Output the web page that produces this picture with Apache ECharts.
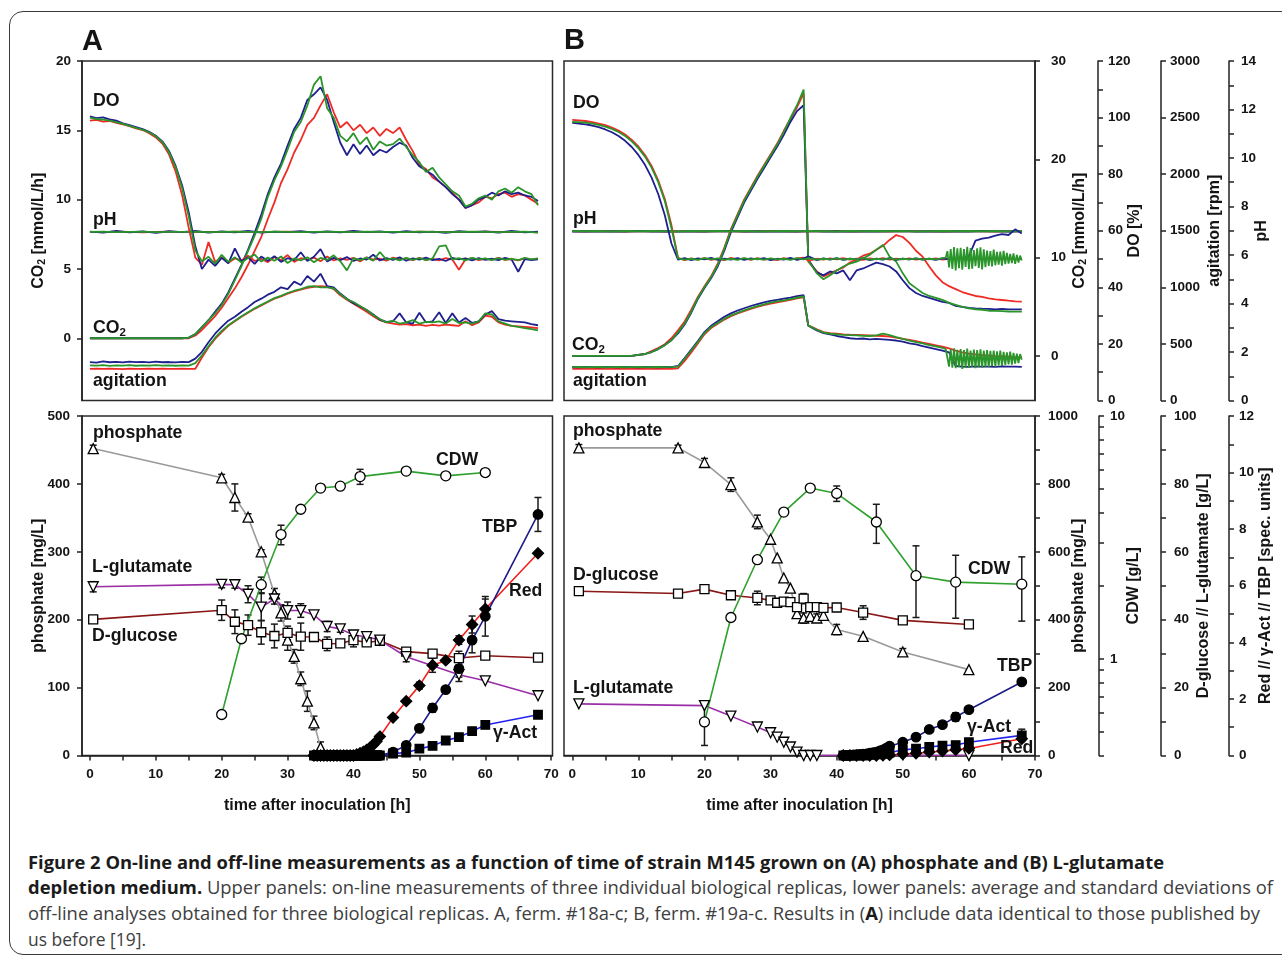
<!DOCTYPE html>
<html><head><meta charset="utf-8">
<script src="https://cdn.jsdelivr.net/npm/echarts@6/dist/echarts.min.js"></script>
<style>
html,body{margin:0;padding:0;background:#fff;}
#wrap{position:relative;width:1282px;height:958px;overflow:hidden;background:#fff;}
#frame{position:absolute;left:9px;top:11px;width:1310px;height:944px;border:1.5px solid #3a3a3a;border-radius:14px;box-sizing:border-box;}
#chart{position:absolute;left:0;top:0;width:1282px;height:835px;}
.cap{position:absolute;left:28px;white-space:nowrap;font-family:'Open Sans','Noto Sans',sans-serif;font-size:18px;line-height:22px;color:#3e3e3e;transform-origin:0 50%;}
.cap b{color:#1b1b1b;font-weight:700;}
</style></head>
<body><div id="wrap">
<div id="frame"></div>
<div id="chart"></div>
<div class="cap" data-w="1136" style="top:851px"><b>Figure 2 On-line and off-line measurements as a function of time of strain M145 grown on (A) phosphate and (B) L-glutamate</b></div>
<div class="cap" data-w="1245" style="top:876px"><b>depletion medium.</b> Upper panels: on-line measurements of three individual biological replicas, lower panels: average and standard deviations of</div>
<div class="cap" data-w="1232" style="top:902px">off-line analyses obtained for three biological replicas. A, ferm. #18a-c; B, ferm. #19a-c. Results in (<b>A</b>) include data identical to those published by</div>
<div class="cap" data-w="118" style="top:928px">us before [19].</div>
</div>
<script>
// ---------------- DATA ----------------
const HOURS_A = [0,1,2,3,4,5,6,7,8,9,10,11,12,13,14,15,16,17,18,19,20,21,22,23,24,25,26,27,28,29,30,31,32,33,34,35,36,37,38,39,40,41,42,43,44,45,46,47,48,49,50,51,52,53,54,55,56,57,58,59,60,61,62,63,64,65,66,67,68];
const HOURS_B = [0,1,2,3,4,5,6,7,8,9,10,11,12,13,14,15,16,17,18,19,20,21,22,23,24,25,26,27,28,29,30,31,32,33,34,35,35.7,37,38,39,40,41,42,43,44,45,46,47,48,49,50,51,52,53,54,55,56,57,58,59,60,61,62,63,64,65,66,67,68];
const HOURS_PH = [0,2,4,6,8,10,12,14,16,18,20,22,24,26,28,30,32,34,36,38,40,42,44,46,48,50,52,54,56,58,60,62,64,66,68];
const HOURS_OSC = [56.5,56.75,57,57.25,57.5,57.75,58,58.25,58.5,58.75,59,59.25,59.5,59.75,60,60.25,60.5,60.75,61,61.25,61.5,61.75,62,62.25,62.5,62.75,63,63.25,63.5,63.75,64,64.25,64.5,64.75,65,65.25,65.5,65.75,66,66.25,66.5,66.75,67,67.25,67.5,67.75,68];

// Panel A on-line (DO %, CO2 mmol/L/h, agitation rpm, pH)
const DO_A_R = [98.9,99.2,98.6,98.8,98.1,97.6,97.0,96.2,95.6,94.5,93.0,90.8,87.0,81.0,72.5,61.0,50.5,48.0,56.0,49.0,50.6,48.7,50.2,49.5,51.2,49.3,50.1,48.9,50.7,49.6,51.4,49.0,50.3,49.8,50.5,49.2,50.9,49.5,50.2,49.7,50.4,49.1,50.6,49.8,50.1,49.4,50.5,49.9,50.2,49.6,50.4,49.7,50.1,49.5,50.3,49.8,46.2,49.9,50.3,49.6,50.1,49.8,50.4,49.7,50.0,49.5,50.2,49.9,50.1];
const DO_A_B = [100.4,99.8,100.1,99.4,98.9,98.0,97.3,96.6,95.9,95.0,93.6,91.6,88.2,83.0,76.0,66.5,54.5,46.5,49.8,47.6,50.4,48.5,53.8,49.2,50.6,48.3,50.9,49.4,51.0,49.0,50.3,49.6,52.4,49.3,50.8,53.5,49.1,50.4,49.6,50.7,49.3,50.2,49.8,51.5,49.5,50.3,49.7,50.6,49.4,50.2,49.8,50.5,49.6,50.1,49.3,50.4,49.9,50.2,49.5,50.3,49.7,50.1,49.6,50.4,49.8,45.5,50.0,49.6,49.9];
const DO_A_G = [100.0,99.5,99.3,98.9,98.4,97.8,97.1,96.4,95.7,94.8,93.4,91.3,87.8,82.5,75.0,65.0,53.0,49.2,50.8,48.4,51.5,49.0,50.6,48.8,50.4,51.6,49.1,50.5,49.4,50.9,48.6,50.2,49.5,50.6,48.9,50.4,49.7,51.3,49.2,46.0,50.3,49.6,50.5,49.4,52.5,49.8,50.2,49.5,50.4,49.7,50.3,49.6,50.2,54.5,54.8,49.8,50.3,49.5,50.4,49.9,50.2,49.6,50.3,49.8,50.1,49.6,50.4,49.9,50.2];
const CO2_A_R = [0,0,0,0,0,0,0,0,0,0,0,0,0,0,0,0,0.2,0.6,1.1,1.6,2.2,2.9,3.6,4.4,5.3,6.3,7.3,8.6,9.8,11.2,12.2,13.4,14.3,15.4,15.9,16.8,17.6,16.3,15.2,15.6,15.0,15.4,14.8,15.2,14.6,15.1,14.8,15.2,14.3,13.5,12.5,12.2,11.6,11.3,10.9,10.5,10.0,9.4,9.6,9.8,10.2,10.1,10.4,10.5,10.2,10.4,10.3,10.0,9.7];
const CO2_A_B = [0,0,0,0,0,0,0,0,0,0,0,0,0,0,0,0.05,0.3,0.8,1.3,1.9,2.5,3.3,4.3,5.3,6.4,7.6,8.9,10.4,11.6,12.6,13.9,15.1,15.9,17.2,17.6,18.1,17.2,15.6,14.1,13.2,14.0,13.3,13.9,13.2,13.6,13.4,13.8,14.1,13.9,13.0,12.4,12.1,11.8,11.3,10.9,10.4,10.0,9.4,9.6,10.0,10.2,10.5,10.3,10.6,10.4,10.5,10.3,10.2,9.9];
const CO2_A_G = [0,0,0,0,0,0,0,0,0,0,0,0,0,0,0,0.05,0.3,0.8,1.3,1.8,2.4,3.2,4.2,5.2,6.3,7.4,8.6,10.2,11.4,12.4,13.6,14.9,15.6,16.8,18.3,18.9,16.6,15.9,14.6,14.2,14.8,14.0,14.5,13.6,14.2,13.9,14.0,14.4,13.8,13.2,12.7,12.0,12.3,11.6,11.1,10.6,10.3,9.5,9.7,10.1,10.3,10.0,10.6,10.8,10.5,10.9,10.6,10.4,9.6];
const AG_A_R = [280,282,279,281,280,278,282,280,279,281,280,282,279,280,281,279,280,380,470,545,605,660,700,740,775,810,840,870,900,920,945,965,980,995,1005,1010,1005,985,930,890,855,820,785,745,710,690,680,670,675,665,670,660,668,662,670,665,660,700,665,690,750,740,690,670,660,655,650,645,640];
const AG_A_B = [340,335,345,338,342,336,344,339,341,337,343,338,340,336,342,339,370,430,515,590,650,705,740,785,825,870,900,935,960,1000,985,1050,1020,1100,1050,1120,1010,1000,945,900,860,830,800,760,715,695,700,770,690,680,775,690,700,780,685,770,690,730,685,700,760,790,720,705,700,695,690,675,665];
const AG_A_G = [310,308,312,306,311,309,313,307,310,308,312,309,311,307,310,309,330,400,480,555,615,665,705,745,780,815,845,875,905,925,950,970,985,1005,1010,1000,1000,990,940,895,870,835,800,755,720,690,705,680,690,710,680,695,690,700,680,720,685,690,680,700,770,760,700,680,660,650,640,630,620];
const PH_A_R = [6.95,6.94,6.96,6.95,6.93,6.95,6.96,6.94,6.95,6.95,6.94,6.96,6.95,6.94,6.95,6.96,6.95,6.94,6.95,6.95,6.96,6.94,6.95,6.95,6.94,6.96,6.95,6.95,6.94,6.95,6.96,6.95,6.94,6.95,6.93];
const PH_A_B = [6.96,6.92,6.99,6.93,6.97,6.91,6.98,6.94,6.99,6.92,6.97,6.93,6.99,6.92,6.96,6.94,6.98,6.92,6.97,6.93,6.99,6.94,6.97,6.92,6.98,6.93,6.96,6.91,6.98,6.94,6.97,6.92,6.99,6.93,6.96];
const PH_A_G = [6.95,6.96,6.94,6.95,6.96,6.94,6.95,6.95,6.96,6.94,6.95,6.96,6.95,6.94,6.96,6.95,6.94,6.95,6.96,6.95,6.94,6.96,6.95,6.95,6.94,6.96,6.95,6.94,6.95,6.96,6.95,6.94,6.95,6.96,6.92];

// Panel B on-line
const DO_B_R = [99.2,99.0,98.8,98.4,97.9,97.3,96.5,95.4,94.0,92.1,89.8,86.8,82.9,77.8,71.2,62.0,50.4,49.6,50.2,49.8,50.3,49.7,50.1,49.6,50.4,49.9,50.2,49.7,50.3,49.8,50.1,49.6,50.3,49.9,50.2,50.5,49.4,50.1,49.8,50.2,49.9,50.3,49.8,50.1,49.7,50.2,49.9,50.3,49.8,50.1,49.9,50.2,49.8,50.1,49.9,50.2,49.8,50.1,49.9,50.2,49.8,50.1,49.9,50.2,49.8,50.0,50.2,49.9,50.1];
const DO_B_B = [98.1,97.9,97.6,97.2,96.6,95.8,94.8,93.5,91.8,89.6,86.8,83.3,78.8,73.0,65.5,55.5,49.8,50.3,49.6,50.2,49.9,50.4,49.7,50.1,49.8,50.3,49.7,50.2,49.9,50.3,49.6,50.1,49.8,50.4,49.7,50.2,51.0,49.6,50.2,49.8,50.3,49.7,50.1,49.9,50.2,49.6,50.1,49.8,50.3,49.7,50.1,49.9,50.2,49.8,50.1,49.7,50.2,49.9,50.1,50.4,51.0,56.5,57.2,57.6,58.3,58.8,58.5,60.5,59.0];
const DO_B_G = [98.5,98.4,98.2,97.9,97.4,96.8,96.0,94.9,93.5,91.6,89.2,86.2,82.3,77.2,70.5,61.0,50.2,49.8,50.1,49.7,50.3,49.9,50.2,49.8,50.1,49.7,50.3,49.9,50.1,49.8,50.2,49.9,50.1,49.7,50.3,49.9,50.2,49.8,50.1,49.9,50.2,49.8,50.1,49.9,50.3,49.8,50.1,49.9,50.2,49.8,50.1,49.9,50.2,49.8,50.1,49.9,50.3];
const DO_B_G_OSC = [50.5,52.8,47.0,53.5,46.5,54.2,46.0,53.8,46.8,54.0,46.2,53.5,47.2,54.3,46.4,53.9,46.6,53.2,47.5,53.8,46.9,54.1,46.3,53.4,47.1,53.0,47.6,52.8,47.4,53.3,47.8,52.5,48.0,52.6,47.7,52.9,48.2,52.2,48.4,51.8,48.6,52.0,48.3,51.5,48.8,51.2,49.5];
const CO2_B_R = [0,0,0,0,0,0,0,0,0,0,0.1,0.2,0.5,0.8,1.2,1.8,2.6,3.5,4.7,6.0,7.1,8.1,9.4,11.0,12.9,14.4,15.9,17.1,18.3,19.4,20.5,21.6,22.9,24.1,25.3,26.7,9.6,8.6,8.1,8.4,8.7,9.0,9.5,9.8,10.2,10.4,10.8,11.2,11.8,12.3,12.1,11.5,10.7,10.1,9.1,8.2,7.5,7.1,6.8,6.5,6.3,6.1,6.0,5.86,5.76,5.69,5.62,5.56,5.52];
const CO2_B_B = [0,0,0,0,0,0,0,0,0,0,0.1,0.2,0.4,0.7,1.1,1.6,2.3,3.2,4.4,5.8,6.9,7.9,9.1,10.7,12.6,14.1,15.6,16.8,18.0,19.1,20.2,21.3,22.5,23.8,24.9,25.5,9.8,8.5,8.2,8.6,8.4,8.7,7.7,8.7,8.9,9.2,9.5,9.35,9.1,8.6,7.7,6.9,6.4,6.1,5.9,5.7,5.5,5.4,5.1,5.0,4.9,4.85,4.81,4.78,4.74,4.78,4.74,4.74,4.74];
const CO2_B_G = [0,0,0,0,0,0,0,0,0,0,0.1,0.2,0.4,0.7,1.1,1.6,2.4,3.3,4.5,5.9,7.0,8.0,9.25,10.9,12.8,14.3,15.8,17.0,18.2,19.3,20.4,21.5,22.8,24.2,25.5,27.1,9.7,8.4,7.8,8.2,8.7,9.1,9.4,9.6,9.9,10.3,10.8,11.3,10.1,9.6,8.4,7.4,6.9,6.4,6.1,5.9,5.7,5.4,5.2,5.0,4.85,4.75,4.7,4.6,4.58,4.55,4.52,4.5,4.5];
const AG_B_R = [280,281,279,282,280,279,281,280,282,279,280,281,279,280,282,280,285,350,425,505,585,640,678,715,745,770,790,810,828,842,856,868,878,890,902,912,665,630,605,595,590,585,582,580,578,575,572,570,565,555,545,535,525,512,500,488,475,460,440,425,415,408,400,396,392,390,388,385,383];
const AG_B_B = [296,294,297,295,293,296,295,294,297,295,293,296,295,294,296,295,305,375,450,525,605,660,700,740,770,795,815,835,852,866,880,890,900,910,922,930,660,620,595,585,570,560,550,545,548,540,545,540,535,530,520,505,495,480,468,455,440,425,305,300,298,301,299,300,298,301,299,300,298];
const AG_B_G = [295,296,294,295,297,294,295,296,294,295,296,295,294,296,295,297,300,369,442,516,596,649,684,722,752,775,796,817,834,849,864,876,884,896,908,920,663,625,600,590,585,580,578,575,572,570,575,590,578,560,545,530,516,505,490,478,465];
const AG_B_G_OSC = [455,440,300,452,290,460,285,448,295,455,280,445,290,458,288,440,300,450,285,446,295,452,290,440,300,445,295,438,305,442,300,435,310,440,305,430,315,425,320,432,318,420,325,415,330,410,360];
const PH_B_R = [6.98,6.97,6.99,6.98,6.97,6.98,6.99,6.97,6.98,6.98,6.97,6.99,6.98,6.97,6.98,6.99,6.98,6.97,6.98,6.98,6.99,6.97,6.98,6.98,6.97,6.99,6.98,6.98,6.97,6.98,6.99,6.98,6.97,6.98,6.98];
const PH_B_B = [6.97,6.98,6.96,6.98,6.97,6.99,6.97,6.98,6.96,6.98,6.97,6.98,6.99,6.97,6.98,6.96,6.98,6.97,6.99,6.97,6.98,6.96,6.98,6.97,6.98,6.99,6.97,6.98,6.96,6.98,6.97,6.99,6.98,6.97,6.98];
const PH_B_G = [6.99,6.98,6.99,6.97,6.99,6.98,6.99,6.98,6.97,6.99,6.98,6.99,6.98,6.99,6.97,6.98,6.99,6.98,6.99,6.98,6.97,6.99,6.98,6.99,6.98,6.99,6.97,6.98,6.99,6.98,6.99,6.98,6.99,6.97,6.99];

// Panel A off-line (phosphate mg/L, CDW g/L, glucose & glutamate g/L, Red/γ-Act/TBP spec. units)
const PHOS_A_T = [0.5,20,22,24,26,28,29,30,31,32,33,34,35];
const PHOS_A = [452,409,380,351,300,238,210,170,146,113,80,48,12];
const PHOS_A_ERR = [5,5,20,5,3,8,12,15,10,10,15,10,8];
const CDW_A_T = [20,23,26,29,32,35,38,41,48,54,60];
const CDW_A = [0.59,1.21,2.02,3.25,4.13,5.05,5.14,5.63,5.93,5.67,5.85];
const CDW_A_ERR = [0,0,0.15,0.3,0,0,0,0.4,0,0,0.2];
const GLC_A_T = [0.5,20,22,24,26,28,30,32,34,36,38,40,42,44,48,52,56,60,68];
const GLC_A = [40.1,42.8,39.4,38.4,36.3,35.2,36.1,35.0,34.9,32.9,33.0,34.0,33.3,33.8,30.6,30.0,28.7,29.4,28.8];
const GLC_A_ERR = [0,3,3.5,3,3.5,3.5,2,4,0,2,0,2,0,0,0,0,2,0,0];
const GLU_A_T = [0.5,20,22,24,26,28,30,32,34,36,38,40,42,44,48,56,60,68];
const GLU_A = [49.7,50.4,50.3,47.5,43.7,46.1,42.7,42.7,41.4,38.0,37.3,35.5,35.0,34.0,29.1,23.8,22.0,17.6];
const GLU_A_ERR = [1.5,1,1,2.5,4,1.5,2.5,2,0,1.5,1,1,0,0,1.5,2,0,0];
const PIG_A_T = [34,34.5,35,35.5,36,36.5,37,37.5,38,38.5,39,39.5,40,40.5,41,41.5,42,42.5,43,43.5,44,46,48,50,52,54,56,58,60,68];
const RED_A = [0,0,0,0,0,0,0,0,0,0,0,0,0,0.04,0.08,0.13,0.2,0.28,0.38,0.5,0.67,1.34,1.92,2.47,3.19,3.36,4.08,4.63,5.18,7.15];
const RED_A_ERR = [0,0,0,0,0,0,0,0,0,0,0,0,0,0,0,0,0,0,0,0,0,0,0,0.12,0.25,0,0.15,0.3,0.35,0];
const TBP_A = [0,0,0,0,0,0,0,0,0,0,0,0,0,0,0,0,0,0,0,0,0,0.12,0.36,0.96,1.68,2.33,3.07,4.08,4.92,8.52];
const TBP_A_ERR = [0,0,0,0,0,0,0,0,0,0,0,0,0,0,0,0,0,0,0,0,0,0,0.1,0,0.15,0,0.3,0.45,0.7,0.6];
const ACT_A = [0,0,0,0,0,0,0,0,0,0,0,0,0,0,0,0,0,0,0,0,0,0.07,0.1,0.24,0.34,0.53,0.65,0.86,1.08,1.44];

// Panel B off-line
const PHOS_B_T = [1,16,20,24,28,30,31,32,33,34,35,36,37,38,40,44,50,60];
const PHOS_B = [906,906,863,798,688,637,582,523,493,418,405,410,405,413,371,351,305,253];
const PHOS_B_ERR = [10,8,12,20,20,0,0,0,0,12,15,15,12,0,15,0,10,0];
const GLC_B = [48.4,47.7,49.0,47.2,46.4,45.7,45.0,45.3,45.2,43.7,46.2,43.7,43.7,43.5,43.6,42.1,39.8,38.6];
const GLC_B_ERR = [0,0,0,0,2,0,0,0,0,0,1.5,0,0,0,0,2,1,0];
const GLU_B_T = [1,20,24,28,30,31,32,33,34,35,36,37,60];
const GLU_B = [15.2,14.7,11.6,8.4,6.7,5.4,3.9,2.5,1.0,0,0,0,0];
const CDW_B_T = [20,24,28,32,36,40,46,52,58,68];
const CDW_B = [0.55,1.48,2.56,4.02,5.05,4.8,3.66,2.2,2.07,2.03];
const CDW_B_ERR = [0.11,0,0,0,0.1,0.35,0.67,0.72,0.6,0.6];
const TBP_B_T = [41,41.5,42,42.5,43,43.5,44,44.5,45,45.5,46,46.5,47,47.5,48,50,52,54,56,58,60,68];
const TBP_B = [0,0,0,0.02,0.03,0.04,0.05,0.06,0.08,0.1,0.12,0.16,0.2,0.26,0.33,0.47,0.65,0.92,1.09,1.36,1.62,2.6];
const TBP_B_ERR = [0,0,0,0,0,0,0,0,0,0,0,0,0,0,0,0.1,0,0,0,0.15,0,0];
const PIG_B_T = [41,42,43,44,45,46,47,48,50,52,54,56,58,60,68];
const ACT_B = [0,0,0,0,0.02,0.04,0.06,0.1,0.2,0.24,0.3,0.35,0.37,0.47,0.71];
const ACT_B_ERR = [0,0,0,0,0,0,0,0,0,0,0,0,0,0.1,0.22];
const RED_B = [0,0,0,0,0,0,0.01,0.02,0.05,0.08,0.12,0.16,0.2,0.25,0.59];

// Tick labels
const X_LABELS = [0,10,20,30,40,50,60,70];
const X_TICKS = [0,5,10,15,20,25,30,35,40,45,50,55,60,65,70];
const CO2A_TICKS = [0,5,10,15,20];
const CO2B_TICKS = [0,10,20,30];
const DO_TICKS = [0,10,20,30,40,50,60,70,80,90,100,110,120];
const DO_LABELS = [0,20,40,60,80,100,120];
const AG_TICKS = [0,500,1000,1500,2000,2500,3000];
const PH_TICKS = [0,1,2,3,4,5,6,7,8,9,10,11,12,13,14];
const PH_LABELS = [0,2,4,6,8,10,12,14];
const PHOSB_TICKS = [0,100,200,300,400,500,600,700,800,900,1000];
const PHOSB_LABELS = [0,200,400,600,800,1000];
const CDW_TICKS = [0.4,0.5,0.6,0.7,0.8,0.9,1,2,3,4,5,6,7,8,9,10];
const CDW_LABELS = [1,10];
const GLC_TICKS = [0,10,20,30,40,50,60,70,80,90,100];
const GLC_LABELS = [0,20,40,60,80,100];
const RED_TICKS = [0,1,2,3,4,5,6,7,8,9,10,11,12];
const RED_LABELS = [0,2,4,6,8,10,12];

// ---------------- CHART ----------------
const FONT = "'Liberation Sans', Arial, Helvetica, sans-serif";
const TXT = '#141414';
const COL = {r:'#ee2b25', b:'#1f1f8e', g:'#2a952a'};
const AX = {color:'#222', width:1.5};
const plain = function(v){ return String(v); };

function pairs(t, v){ const n = Math.min(t.length, v.length); const o = []; for (let i = 0; i < n; i++) o.push([t[i], v[i]]); return o; }

function xAxis(gi, min, max, show){
  return {type:'value', gridIndex:gi, min:min, max:max,
    axisLine:{show:show, onZero:false, lineStyle:AX},
    axisTick:{show:show, inside:false, length:5, lineStyle:AX, customValues:X_TICKS},
    axisLabel:{show:show, fontFamily:FONT, fontWeight:'bold', fontSize:13.5, color:TXT, margin:12, customValues:X_LABELS, formatter:plain},
    splitLine:{show:false}, name: show ? 'time after inoculation [h]' : '',
    nameLocation:'middle', nameGap:42, nameMoveOverlap:false,
    nameTextStyle:{fontFamily:FONT, fontWeight:'bold', fontSize:16, color:TXT}};
}
const RICH = {n:{fontFamily:FONT, fontWeight:'bold', fontSize:16, color:TXT, lineHeight:19},
              s:{fontFamily:FONT, fontWeight:'bold', fontSize:10.5, color:TXT, lineHeight:10, verticalAlign:'bottom'}};
function yVis(o){
  const ns = {fontFamily:FONT, fontWeight:'bold', fontSize:16, color:TXT};
  if (o.rich) ns.rich = RICH;
  const lab = {fontFamily:FONT, fontWeight:'bold', fontSize:13.5, color:TXT, margin:o.margin, customValues:o.labels, formatter:o.fmt || plain};
  return {type:'value', gridIndex:o.gi, position:o.pos, offset:o.off||0, min:o.min, max:o.max,
    axisLine:{show:true, onZero:false, lineStyle:AX},
    axisTick:{show:true, inside:false, length:5, lineStyle:AX, customValues:o.ticks},
    axisLabel:lab, splitLine:{show:false},
    name:o.name, nameLocation:'middle', nameGap:o.gap, nameMoveOverlap:false, nameTextStyle:ns};
}
function yHid(gi, min, max, type){ return {type:type||'value', gridIndex:gi, min:min, max:max, show:false, position:'right'}; }

const L4 = Math.log10(0.4);
const yAxes = [
  yVis({gi:0, pos:'left', min:-4.49, max:20, ticks:CO2A_TICKS, labels:CO2A_TICKS, margin:11, name:'{n|CO}{s|2}{n| [mmol/L/h]}', rich:true, gap:34}), //0
  yHid(0, 0, 120), //1 DO
  yHid(0, 0, 3000), //2 agitation
  yHid(0, 0, 14), //3 pH
  yVis({gi:1, pos:'right', off:0, min:-4.53, max:30, ticks:CO2B_TICKS, labels:CO2B_TICKS, margin:16, name:'{n|CO}{s|2}{n| [mmol/L/h]}', rich:true, gap:35}), //4
  yVis({gi:1, pos:'right', off:63, min:0, max:120, ticks:DO_TICKS, labels:DO_LABELS, margin:10, name:'DO [%]', gap:29}), //5
  yVis({gi:1, pos:'right', off:126, min:0, max:3000, ticks:AG_TICKS, labels:AG_TICKS, margin:9, name:'agitation [rpm]', gap:46}), //6
  yVis({gi:1, pos:'right', off:194, min:0, max:14, ticks:PH_TICKS, labels:PH_LABELS, margin:12, name:'pH', gap:25}), //7
  yVis({gi:2, pos:'left', min:0, max:500, ticks:[0,100,200,300,400,500], labels:[0,100,200,300,400,500], margin:12, name:'phosphate [mg/L]', gap:35}), //8
  yHid(2, 0.4, 10, 'log'), //9 CDW
  yHid(2, 0, 100), //10 glc/glu
  yHid(2, 0, 12), //11 pigments
  yVis({gi:3, pos:'right', off:0, min:0, max:1000, ticks:PHOSB_TICKS, labels:PHOSB_LABELS, margin:13, name:'phosphate [mg/L]', gap:36}), //12
  yHid(3, 0.4, 10, 'log'), //13 CDW (data)
  yVis({gi:3, pos:'right', off:64, min:L4, max:1, ticks:CDW_TICKS.map(Math.log10), labels:CDW_LABELS.map(Math.log10), margin:11, name:'CDW [g/L]', gap:27,
        fmt:function(v){ return String(Math.round(Math.pow(10, v))); }}), //14 CDW (scale display)
  yVis({gi:3, pos:'right', off:126, min:0, max:100, ticks:GLC_TICKS, labels:GLC_LABELS, margin:13, name:'D-glucose // L-glutamate [g/L]', gap:35}), //15
  yVis({gi:3, pos:'right', off:194, min:0, max:12, ticks:RED_TICKS, labels:RED_LABELS, margin:10, name:'Red // \u03b3-Act // TBP [spec. units]', gap:29}) //16
];

const series = [];
function onData(data, c, gi, yi){
  series.push({type:'line', xAxisIndex:gi, yAxisIndex:yi, data:data, symbol:'none',
    lineStyle:{color:c, width:1.8}, itemStyle:{color:c}, silent:true, z:2, animation:false});
}
function on(t, v, c, gi, yi){ onData(pairs(t, v), c, gi, yi); }
// Panel A top
on(HOURS_A, CO2_A_R, COL.r, 0, 0); on(HOURS_A, CO2_A_B, COL.b, 0, 0); on(HOURS_A, CO2_A_G, COL.g, 0, 0);
on(HOURS_A, AG_A_R, COL.r, 0, 2); on(HOURS_A, AG_A_B, COL.b, 0, 2); on(HOURS_A, AG_A_G, COL.g, 0, 2);
on(HOURS_PH, PH_A_R, COL.r, 0, 3); on(HOURS_PH, PH_A_B, COL.b, 0, 3); on(HOURS_PH, PH_A_G, COL.g, 0, 3);
on(HOURS_A, DO_A_R, COL.r, 0, 1); on(HOURS_A, DO_A_B, COL.b, 0, 1); on(HOURS_A, DO_A_G, COL.g, 0, 1);
// Panel B top
on(HOURS_B, CO2_B_R, COL.r, 1, 4); on(HOURS_B, CO2_B_B, COL.b, 1, 4); on(HOURS_B, CO2_B_G, COL.g, 1, 4);
on(HOURS_B, AG_B_R, COL.r, 1, 6); on(HOURS_B, AG_B_B, COL.b, 1, 6);
onData(pairs(HOURS_B, AG_B_G).concat(pairs(HOURS_OSC, AG_B_G_OSC)), COL.g, 1, 6);
on(HOURS_PH, PH_B_R, COL.r, 1, 7); on(HOURS_PH, PH_B_B, COL.b, 1, 7); on(HOURS_PH, PH_B_G, COL.g, 1, 7);
on(HOURS_B, DO_B_R, COL.r, 1, 5); on(HOURS_B, DO_B_B, COL.b, 1, 5);
onData(pairs(HOURS_B, DO_B_G).concat(pairs(HOURS_OSC, DO_B_G_OSC)), COL.g, 1, 5);

// Off-line
function errBars(t, v, e, gi, yi){
  const d = []; for (let i = 0; i < t.length; i++) if (e[i] > 0) d.push([t[i], v[i], e[i]]);
  series.push({type:'custom', xAxisIndex:gi, yAxisIndex:yi, data:d, dimensions:['x','y','e'], encode:{x:0, y:1}, z:3, silent:true, animation:false,
    renderItem:function(p, api){
      const x = api.value(0), y = api.value(1), e2 = api.value(2);
      const a = api.coord([x, y + e2]), b = api.coord([x, y - e2]);
      const w = 3.5, st = {stroke:'#1a1a1a', lineWidth:1.5};
      return {type:'group', children:[
        {type:'line', shape:{x1:a[0], y1:a[1], x2:b[0], y2:b[1]}, style:st},
        {type:'line', shape:{x1:a[0]-w, y1:a[1], x2:a[0]+w, y2:a[1]}, style:st},
        {type:'line', shape:{x1:b[0]-w, y1:b[1], x2:b[0]+w, y2:b[1]}, style:st}]};
    }});
}
function off(t, v, lc, sym, size, filled, gi, yi, rot){
  series.push({type:'line', xAxisIndex:gi, yAxisIndex:yi, data:pairs(t, v), symbol:sym, symbolSize:size, symbolRotate:rot||0, showAllSymbol:true,
    lineStyle:{color:lc, width:1.6}, itemStyle:{color: filled ? '#000' : '#fff', borderColor:'#000', borderWidth:1.3, opacity:1},
    silent:true, z:4, animation:false});
}
const LC = {phos:'#9a9a9a', glu:'#9a2fa8', glc:'#8a1616', cdw:'#2ea02e', tbp:'#1c1c86', red:'#f0201c', act:'#2323f0'};
// A
errBars(PHOS_A_T, PHOS_A, PHOS_A_ERR, 2, 8);
errBars(CDW_A_T, CDW_A, CDW_A_ERR, 2, 9);
errBars(GLC_A_T, GLC_A, GLC_A_ERR, 2, 10);
errBars(GLU_A_T, GLU_A, GLU_A_ERR, 2, 10);
errBars(PIG_A_T, RED_A, RED_A_ERR, 2, 11);
errBars(PIG_A_T, TBP_A, TBP_A_ERR, 2, 11);
off(PHOS_A_T, PHOS_A, LC.phos, 'triangle', 10, false, 2, 8);
off(GLC_A_T, GLC_A, LC.glc, 'rect', 9, false, 2, 10);
off(GLU_A_T, GLU_A, LC.glu, 'triangle', 10, false, 2, 10, 180);
off(CDW_A_T, CDW_A, LC.cdw, 'circle', 10, false, 2, 9);
off(PIG_A_T, ACT_A, LC.act, 'rect', 8.5, true, 2, 11);
off(PIG_A_T, RED_A, LC.red, 'diamond', 11, true, 2, 11);
off(PIG_A_T, TBP_A, LC.tbp, 'circle', 9.5, true, 2, 11);
// B
errBars(PHOS_B_T, PHOS_B, PHOS_B_ERR, 3, 12);
errBars(CDW_B_T, CDW_B, CDW_B_ERR, 3, 13);
errBars(PHOS_B_T, GLC_B, GLC_B_ERR, 3, 15);
errBars(TBP_B_T, TBP_B, TBP_B_ERR, 3, 16);
errBars(PIG_B_T, ACT_B, ACT_B_ERR, 3, 16);
off(PHOS_B_T, PHOS_B, LC.phos, 'triangle', 10, false, 3, 12);
off(PHOS_B_T, GLC_B, LC.glc, 'rect', 9, false, 3, 15);
off(GLU_B_T, GLU_B, LC.glu, 'triangle', 10, false, 3, 15, 180);
off(CDW_B_T, CDW_B, LC.cdw, 'circle', 10, false, 3, 13);
off(PIG_B_T, RED_B, LC.red, 'diamond', 11, true, 3, 16);
off(PIG_B_T, ACT_B, LC.act, 'rect', 8.5, true, 3, 16);
off(TBP_B_T, TBP_B, LC.tbp, 'circle', 9.5, true, 3, 16);

// Annotation text
function txt(s, x, y, size){
  return {type:'text', x:x, y:y, silent:true, z:100,
    style:{text:s, fontFamily:FONT, fontWeight:'bold', fontSize:size||17.7, fill:TXT, align:'left', verticalAlign:'middle'}};
}
function co2(x, y){
  return {type:'text', x:x, y:y, silent:true, z:100,
    style:{text:'{a|CO}{b|2}', align:'left', verticalAlign:'middle',
      rich:{a:{fontFamily:FONT, fontWeight:'bold', fontSize:17.7, fill:TXT, lineHeight:22},
            b:{fontFamily:FONT, fontWeight:'bold', fontSize:11.5, fill:TXT, lineHeight:11, verticalAlign:'bottom'}}}};
}
const graphic = [
  txt('A', 82, 42, 29), txt('B', 564, 41, 29),
  txt('DO', 93, 101), txt('pH', 93, 220), co2(93, 328), txt('agitation', 93, 381),
  txt('DO', 573, 103), txt('pH', 573, 219), co2(572, 345), txt('agitation', 573, 381),
  txt('phosphate', 93, 433), txt('CDW', 436, 460), txt('TBP', 482, 527), txt('Red', 509, 591),
  txt('L-glutamate', 92, 567), txt('D-glucose', 92, 636), txt('\u03b3-Act', 493, 733),
  txt('phosphate', 573, 431), txt('CDW', 968, 569), txt('D-glucose', 573, 575), txt('L-glutamate', 573, 688),
  txt('TBP', 997, 666), txt('\u03b3-Act', 967, 727), txt('Red', 1000, 748)
];

const gridBase = {show:true, borderColor:'#2a2a2a', borderWidth:1.5, backgroundColor:'transparent', containLabel:false, outerBoundsMode:'none'};
const option = {
  animation:false, backgroundColor:'transparent',
  grid:[
    Object.assign({left:82, top:61, width:470.5, height:339.5}, gridBase),
    Object.assign({left:564, top:61, width:471, height:339.5}, gridBase),
    Object.assign({left:82, top:416, width:470.5, height:339.5}, gridBase),
    Object.assign({left:564, top:416, width:471, height:339.5}, gridBase)
  ],
  xAxis:[xAxis(0, -1.2, 70.2, false), xAxis(1, -1.25, 70, false), xAxis(2, -1.2, 70.2, true), xAxis(3, -1.25, 70, true)],
  yAxis:yAxes,
  series:series,
  graphic:graphic
};
const chart = echarts.init(document.getElementById('chart'), null, {renderer:'canvas'});
chart.setOption(option);

function fitCaps(){
  document.querySelectorAll('.cap').forEach(function(el){
    el.style.transform = 'none';
    const w = el.getBoundingClientRect().width;
    const target = parseFloat(el.getAttribute('data-w'));
    if (w > 0) el.style.transform = 'scaleX(' + (target / w) + ')';
  });
}
fitCaps();
if (document.fonts && document.fonts.ready) document.fonts.ready.then(fitCaps);
</script>
</body></html>
